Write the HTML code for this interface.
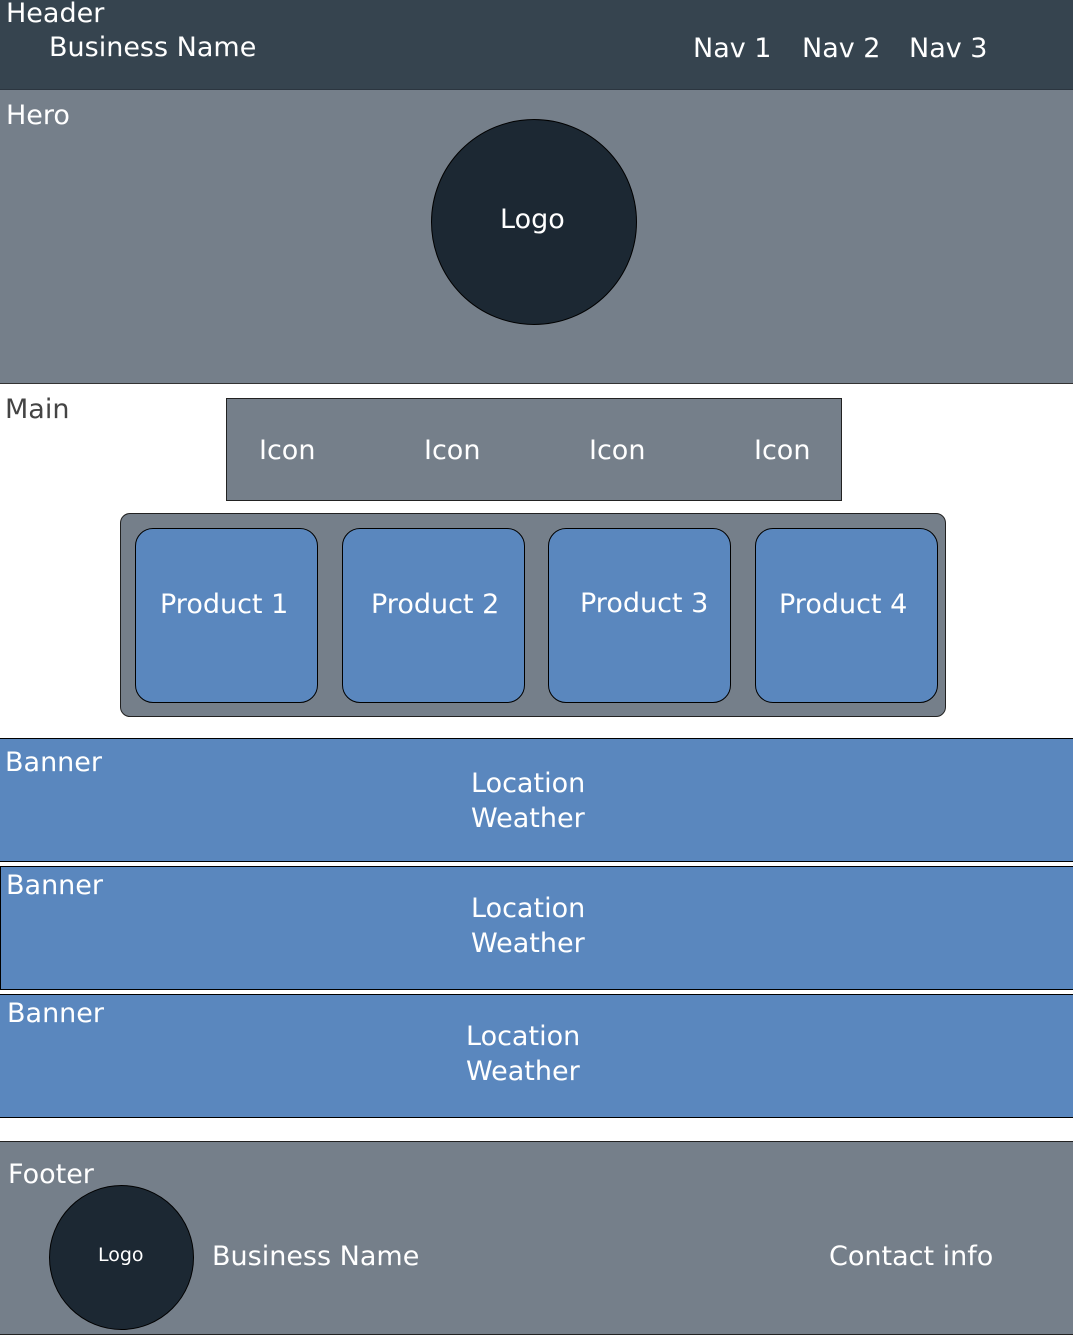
<!DOCTYPE html>
<html><head><style>
*{margin:0;padding:0;box-sizing:border-box}
body{width:1073px;height:1335px;position:relative;background:#fff;font-family:"DejaVu Sans","Liberation Sans",sans-serif;color:#fff;overflow:hidden}
.a{position:absolute}
.t{position:absolute;white-space:nowrap;font-size:27px;line-height:1}
.b{background:#5a87be;border:1px solid #000}
</style></head><body>
<div class="a" style="left:0;top:0;width:1073px;height:90px;background:#36444f;border-bottom:1px solid #2c3640"></div>
<div class="t" style="left:6px;top:0px">Header</div>
<div class="t" style="left:49px;top:34px">Business Name</div>
<div class="t" style="left:693px;top:35px">Nav 1</div>
<div class="t" style="left:802px;top:35px">Nav 2</div>
<div class="t" style="left:909px;top:35px">Nav 3</div>

<div class="a" style="left:0;top:90px;width:1073px;height:294px;background:#757f8a;border-bottom:1px solid #333"></div>
<div class="t" style="left:6px;top:102px">Hero</div>
<div class="a" style="left:431px;top:119px;width:206px;height:206px;border-radius:50%;background:#1c2833;border:1px solid #000"></div>
<div class="t" style="left:500px;top:206px">Logo</div>

<div class="t" style="left:5px;top:396px;color:#444">Main</div>
<div class="a" style="left:226px;top:398px;width:616px;height:103px;background:#757f8a;border:1px solid #222"></div>
<div class="t" style="left:259px;top:437px">Icon</div>
<div class="t" style="left:424px;top:437px">Icon</div>
<div class="t" style="left:589px;top:437px">Icon</div>
<div class="t" style="left:754px;top:437px">Icon</div>

<div class="a" style="left:120px;top:513px;width:826px;height:204px;background:#757f8a;border:1px solid #222;border-radius:10px"></div>
<div class="a b" style="left:135px;top:528px;width:183px;height:175px;border-radius:18px"></div>
<div class="a b" style="left:342px;top:528px;width:183px;height:175px;border-radius:18px"></div>
<div class="a b" style="left:548px;top:528px;width:183px;height:175px;border-radius:18px"></div>
<div class="a b" style="left:755px;top:528px;width:183px;height:175px;border-radius:18px"></div>
<div class="t" style="left:160px;top:591px">Product 1</div>
<div class="t" style="left:371px;top:591px">Product 2</div>
<div class="t" style="left:580px;top:590px">Product 3</div>
<div class="t" style="left:779px;top:591px">Product 4</div>

<div class="a b" style="left:-2px;top:738px;width:1080px;height:124px"></div>
<div class="t" style="left:5px;top:749px">Banner</div>
<div class="t" style="left:471px;top:766px;line-height:35px">Location<br>Weather</div>
<div class="a b" style="left:0;top:866px;width:1080px;height:124px"></div>
<div class="t" style="left:6px;top:872px">Banner</div>
<div class="t" style="left:471px;top:891px;line-height:35px">Location<br>Weather</div>
<div class="a b" style="left:-2px;top:994px;width:1080px;height:124px"></div>
<div class="t" style="left:7px;top:1000px">Banner</div>
<div class="t" style="left:466px;top:1019px;line-height:35px">Location<br>Weather</div>

<div class="a" style="left:-2px;top:1141px;width:1080px;height:194px;background:#757f8a;border:1px solid #222"></div>
<div class="t" style="left:8px;top:1161px">Footer</div>
<div class="a" style="left:49px;top:1185px;width:145px;height:145px;border-radius:50%;background:#1c2833;border:1px solid #000"></div>
<div class="t" style="left:98px;top:1246px;font-size:19px">Logo</div>
<div class="t" style="left:212px;top:1243px">Business Name</div>
<div class="t" style="left:829px;top:1243px">Contact info</div>
</body></html>
